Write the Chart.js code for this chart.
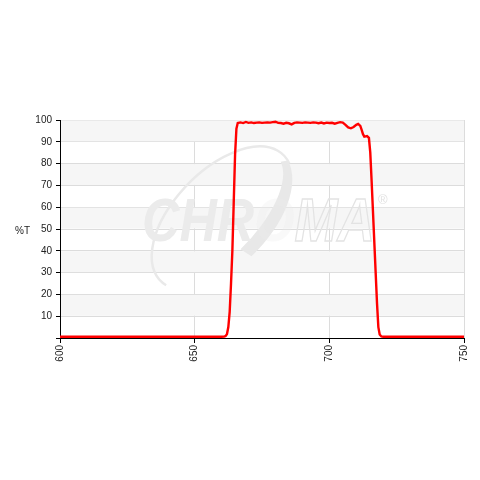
<!DOCTYPE html>
<html>
<head>
<meta charset="utf-8">
<script src="https://cdn.jsdelivr.net/npm/chart.js@4/dist/chart.umd.min.js"></script>
<style>
html,body{margin:0;padding:0;background:#fff;}
#wrap{width:480px;height:480px;position:relative;}
</style>
</head>
<body>
<div id="wrap"><canvas id="c" width="480" height="480"></canvas></div>
<script>
// Wavelength (nm)
const wavelengths = [600,620,640,655,660,661,661.5,662,662.5,663,663.5,664,664.5,665,665.5,666,667,668,669,670,671,672,673,674,675,676,677,678,679,680,681,682,683,684,685,686,687,688,689,690,691,692,693,694,695,696,697,698,699,700,701,702,703,704,705,706,707,708,709,710,710.7,711.5,712,712.5,713,714,714.7,715.2,715.7,716.2,716.7,717.2,717.7,718.2,718.7,719.3,720,730,740,750];
// Transmission (%T)
const transmission = [0.6,0.6,0.6,0.6,0.6,0.7,0.9,1.8,5,12,25,40,62,84,96,98.6,98.9,98.6,99.1,98.7,98.9,98.6,98.8,98.9,98.7,98.8,98.9,98.8,99.0,99.2,98.7,98.6,98.3,98.7,98.5,98.0,98.7,98.9,98.8,98.7,98.9,98.8,98.7,98.9,98.8,98.5,98.8,98.4,98.8,98.6,98.7,98.3,98.7,99.0,98.8,97.8,96.6,96.2,96.8,97.8,98.2,97.3,95.5,93.5,92.4,92.6,91.8,85,72,58,44,30,16,5,1.6,0.7,0.6,0.6,0.6,0.6];
const xTicks = [600,650,700,750];
const yTicks = [10,20,30,40,50,60,70,80,90,100];
const yTitle = "%T";
const watermark = "CHROMA";

const points = wavelengths.map((w,i)=>({x:w,y:transmission[i]}));

const bandsPlugin = {
  id:'bands',
  beforeDatasetsDraw(chart){
    const {ctx, chartArea:a, scales:{y}} = chart;
    ctx.save();
    ctx.fillStyle = '#f6f6f6';
    for (let v=10; v<100; v+=20){
      const top = y.getPixelForValue(v+10), bot = y.getPixelForValue(v);
      ctx.fillRect(a.left+1, top+0.5, a.right-a.left-1, bot-top-1);
    }
    // watermark swoosh
    const cx=222, cy=218, ra=88, rb=48, rot=-0.8;
    ctx.strokeStyle = '#e9e9e9';
    ctx.lineWidth = 2.5;
    ctx.beginPath();
    ctx.ellipse(cx, cy, ra, rb, rot, 3.0, 6.5);
    ctx.stroke();
    ctx.fillStyle = '#e8e8e8';
    ctx.beginPath();
    ctx.ellipse(cx, cy, ra, rb, rot, 0.15, 1.65, false);
    ctx.ellipse(cx-4, cy, ra-3, rb-10, rot, 1.65, 0.15, true);
    ctx.closePath();
    ctx.fill();
    // watermark text
    ctx.font = 'italic bold 62px "Liberation Sans", Arial, sans-serif';
    ctx.textBaseline = 'alphabetic';
    const full = ctx.measureText(watermark).width;
    const sx = 233/full;
    ctx.translate(142, 241);
    ctx.scale(sx, 1);
    const first = watermark.slice(0,3);
    const mid = watermark.slice(3,4);
    const rest = watermark.slice(4);
    ctx.fillStyle = '#ebebeb';
    ctx.fillText(first, 0, 0);
    const w1 = ctx.measureText(first).width;
    ctx.globalAlpha = 0.3;
    ctx.fillText(mid, w1, 0);
    ctx.globalAlpha = 1;
    const w2 = ctx.measureText(first+mid).width;
    ctx.lineWidth = 1.4;
    ctx.strokeStyle = '#e3e3e3';
    ctx.strokeText(rest, w2, 0);
    ctx.restore();
    ctx.save();
    ctx.fillStyle = '#e2e2e2';
    ctx.font = '13px "Liberation Sans", Arial, sans-serif';
    ctx.fillText('\u00AE', 378, 204);
    ctx.restore();
  },
  afterDraw(chart){
    const {ctx} = chart;
    ctx.save();
    ctx.fillStyle = '#222';
    ctx.font = '10px "Liberation Sans", Arial, sans-serif';
    ctx.textAlign = 'left';
    ctx.textBaseline = 'middle';
    ctx.fillText(yTitle, 15, 231);
    ctx.restore();
  }
};

new Chart(document.getElementById('c'), {
  type:'line',
  data:{datasets:[{data:points, borderColor:'#ff0000', borderWidth:2.4, pointRadius:0, tension:0, fill:false}]},
  options:{
    responsive:false, animation:false, devicePixelRatio:1,
    layout:{padding:{top:120,right:16,left:0,bottom:0}},
    plugins:{legend:{display:false}, tooltip:{enabled:false}},
    scales:{
      x:{type:'linear', min:600, max:750,
        afterBuildTicks(s){ s.ticks = xTicks.map(v=>({value:v})); },
        afterFit(s){ s.height = 142; },
        ticks:{maxRotation:90, minRotation:90, padding:2, color:'#222', font:{family:'"Liberation Sans", Arial, sans-serif', size:10}},
        grid:{color:'#dcdcdc', tickColor:'#000', tickLength:5, drawTicks:true},
        border:{color:'#000', width:1}
      },
      y:{min:0, max:100,
        afterBuildTicks(s){ s.ticks = [{value:0}].concat(yTicks.map(v=>({value:v}))); },
        afterFit(s){ s.width = 60; },
        ticks:{padding:4, color:'#222', font:{family:'"Liberation Sans", Arial, sans-serif', size:10},
          callback:(v)=> v===0 ? '' : String(v)},
        grid:{color:'#dcdcdc', tickColor:'#000', tickLength:4, drawTicks:true},
        border:{color:'#000', width:1}
      }
    }
  },
  plugins:[bandsPlugin]
});
</script>
</body>
</html>
